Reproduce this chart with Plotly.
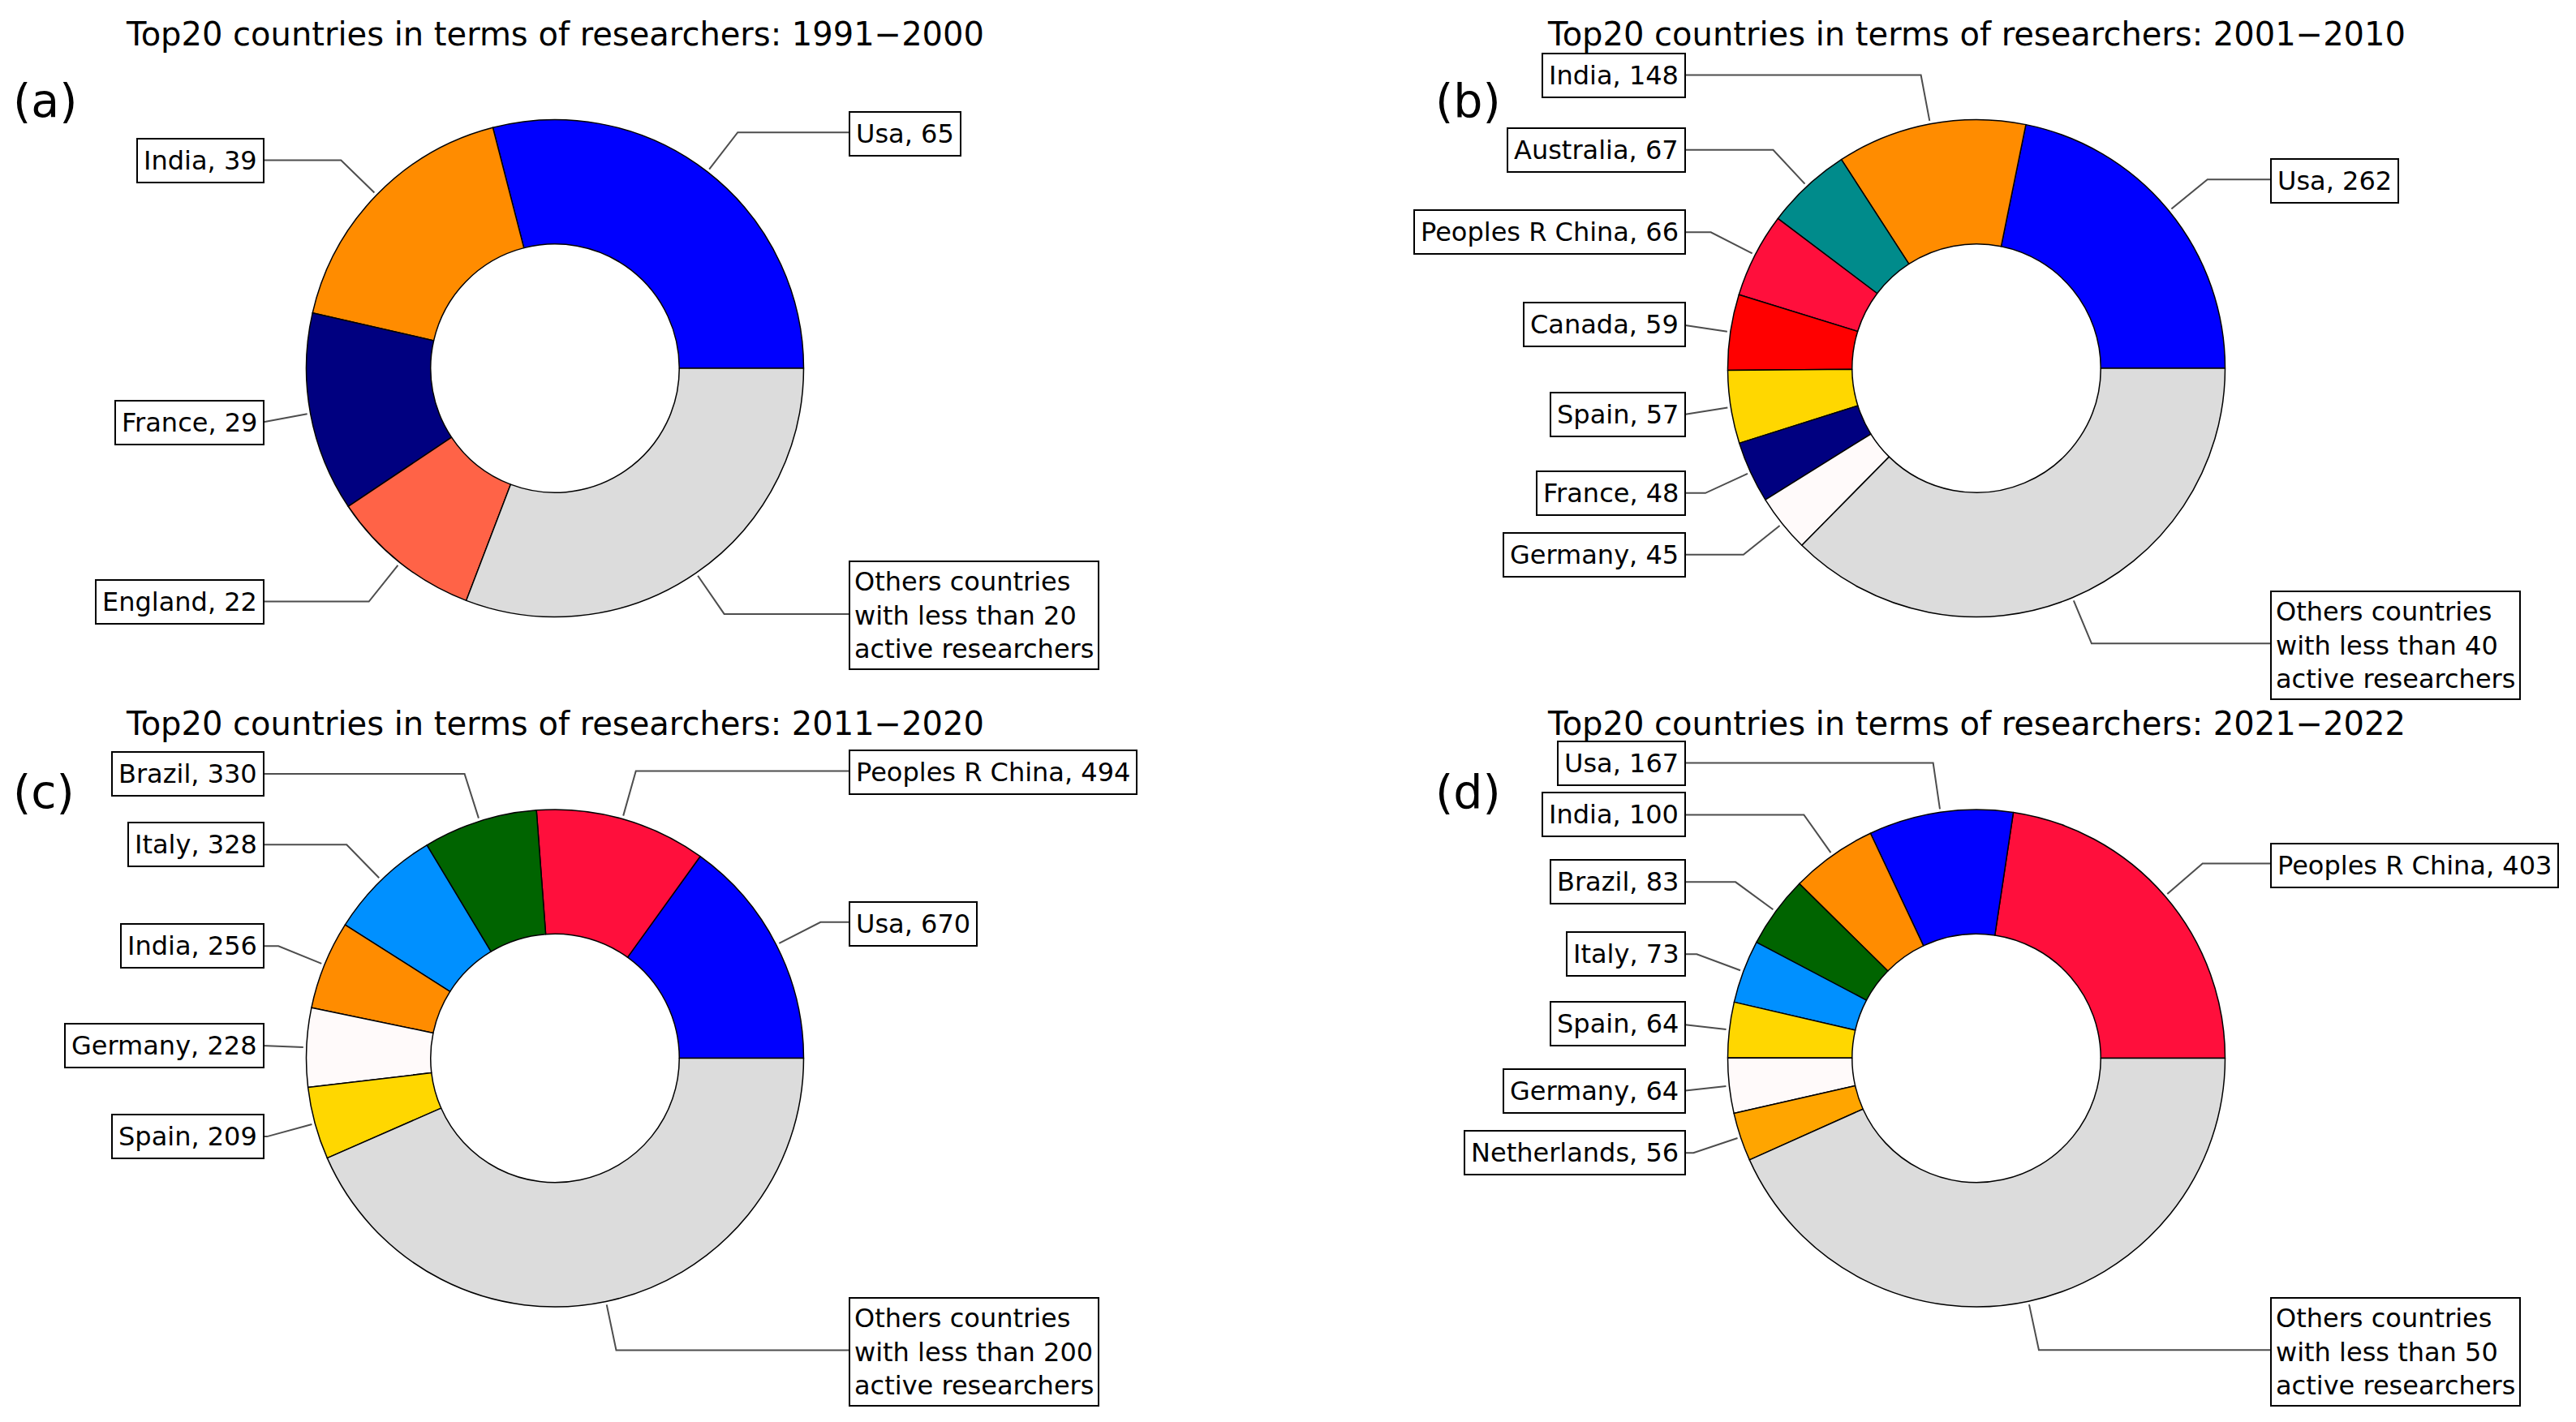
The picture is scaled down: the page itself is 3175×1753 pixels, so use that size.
import math
import plotly.graph_objects as go

W, H = 3175, 1753

titles = [
    "Top20 countries in terms of researchers: 1991\u22122000",
    "Top20 countries in terms of researchers: 2001\u22122010",
    "Top20 countries in terms of researchers: 2011\u22122020",
    "Top20 countries in terms of researchers: 2021\u22122022",
]
panel_tags = ["(a)", "(b)", "(c)", "(d)"]

labels_a = ["Usa", "India", "France", "England", "Others"]
values_a = [65, 39, 29, 22, 69]

labels_b = ["Usa", "India", "Australia", "Peoples R China", "Canada", "Spain",
            "France", "Germany", "Others"]
values_b = [262, 148, 67, 66, 59, 57, 48, 45, 449]

labels_c = ["Usa", "Peoples R China", "Brazil", "Italy", "India", "Germany",
            "Spain", "Others"]
values_c = [670, 494, 330, 328, 256, 228, 209, 1930]

labels_d = ["Peoples R China", "Usa", "India", "Brazil", "Italy", "Spain",
            "Germany", "Netherlands", "Others"]
values_d = [403, 167, 100, 83, 73, 64, 64, 56, 771]

others_thresholds = [20, 40, 200, 50]

country_colors = {
    "Usa": "#0000FF",
    "India": "#FF8C00",
    "France": "#000080",
    "England": "#FF6347",
    "Others": "#DCDCDC",
    "Australia": "#008B8B",
    "Peoples R China": "#FF0F3C",
    "Canada": "#FF0000",
    "Spain": "#FFD700",
    "Germany": "#FFFAFA",
    "Brazil": "#006400",
    "Italy": "#0090FF",
    "Netherlands": "#FFA500",
}

panels = [(labels_a, values_a), (labels_b, values_b),
          (labels_c, values_c), (labels_d, values_d)]

# layout geometry (pixels)
centers_x = [684, 2436, 684, 2436]
centers_y = [454, 454, 1304.5, 1304.5]
title_y = [42, 42, 892, 892]
tag_x = [14, 1767, 14, 1767]
tag_y = [124, 124, 976, 976]
R = 306.5
FONT = "DejaVu Sans"

fig = go.Figure()

for k, (labels, values) in enumerate(panels):
    cx, cy = centers_x[k], centers_y[k]
    total = sum(values)
    # Plotly counterclockwise: first slice lies clockwise of `rotation`,
    # so shift so that the first slice starts at 3 o'clock.
    rot = 90 - 360.0 * values[0] / total
    fig.add_trace(go.Pie(
        labels=labels, values=values, sort=False,
        direction="counterclockwise", rotation=rot, hole=0.5,
        marker=dict(colors=[country_colors[l] for l in labels],
                    line=dict(color="black", width=1.5)),
        textinfo="none", hoverinfo="label+value", showlegend=False,
        domain=dict(x=[(cx - R) / W, (cx + R) / W],
                    y=[1 - (cy + R) / H, 1 - (cy - R) / H]),
    ))

    cum = 0.0
    for lab, v in zip(labels, values):
        a = 2 * math.pi * (cum + v / 2.0) / total
        cum += v
        ca, sa = math.cos(a), math.sin(a)
        side = 1 if ca >= 0 else -1
        px, py = cx + (R + 4) * ca, cy - (R + 4) * sa
        qx, qy = cx + 1.2 * R * ca, cy - 1.2 * R * sa
        tx = cx + side * 1.2 * R
        fig.add_trace(go.Scatter(
            x=[tx, qx, px], y=[qy, qy, py], mode="lines",
            line=dict(color="#4d4d4d", width=2),
            xaxis="x", yaxis="y", hoverinfo="skip", showlegend=False,
        ))
        if lab == "Others":
            text = ("Others countries<br>with less than %d<br>active researchers"
                    % others_thresholds[k])
            pad = 5
        else:
            text = "%s, %d" % (lab, v)
            pad = 7
        edge_off = 6 if side > 0 else 10
        fig.add_annotation(
            x=tx - side * edge_off, y=qy + (2 if side > 0 else 0),
            xref="x", yref="y", text=text,
            xanchor="left" if side > 0 else "right", yanchor="middle",
            align="left", showarrow=False,
            font=dict(family=FONT, size=32, color="black"),
            bgcolor="white", bordercolor="black", borderwidth=2, borderpad=pad,
        )

    fig.add_annotation(
        x=cx, y=title_y[k], xref="x", yref="y", text=titles[k],
        xanchor="center", yanchor="middle", showarrow=False,
        font=dict(family=FONT, size=40, color="black"),
    )
    fig.add_annotation(
        x=tag_x[k], y=tag_y[k], xref="x", yref="y", text=panel_tags[k],
        xanchor="left", yanchor="middle", showarrow=False,
        font=dict(family=FONT, size=57, color="black"),
    )

fig.update_layout(
    width=W, height=H, autosize=False,
    margin=dict(l=0, r=0, t=0, b=0),
    paper_bgcolor="white", plot_bgcolor="white",
    xaxis=dict(range=[0, W], visible=False, domain=[0, 1], fixedrange=True),
    yaxis=dict(range=[H, 0], visible=False, domain=[0, 1], fixedrange=True),
    showlegend=False,
)

fig.write_html("out.html",
               config={"displayModeBar": False},
               post_script="document.body.style.margin='0px';"
                           "document.body.style.overflow='hidden';")
